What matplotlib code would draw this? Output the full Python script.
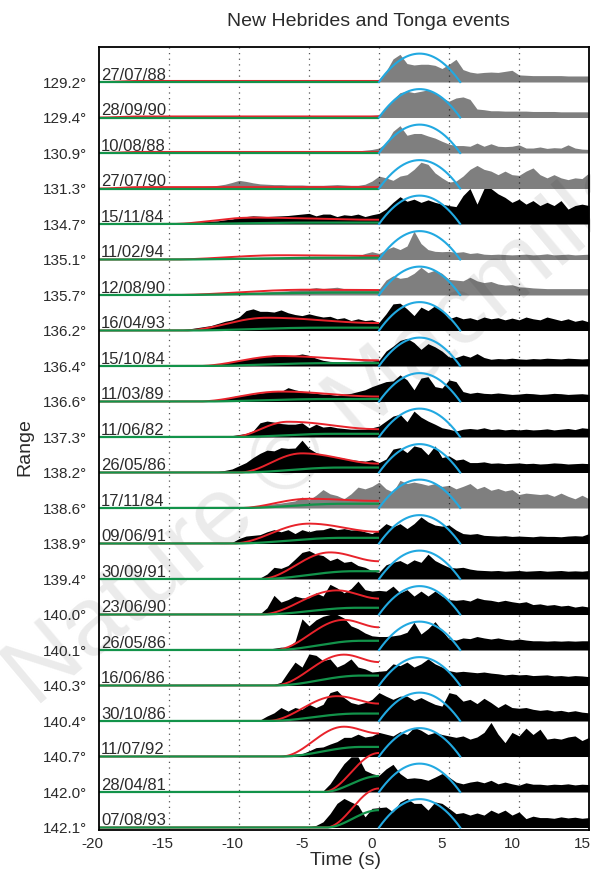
import numpy as np
import matplotlib
matplotlib.use("Agg")
import matplotlib.pyplot as plt
from matplotlib.transforms import ScaledTranslation

plt.rcParams['font.family'] = ['Liberation Sans', 'DejaVu Sans']

# ---------------------------------------------------------------- data
# event dates (top to bottom) and epicentral ranges
dates = ["27/07/88", "28/09/90", "10/08/88", "27/07/90", "15/11/84", "11/02/94",
         "12/08/90", "16/04/93", "15/10/84", "11/03/89", "11/06/82", "26/05/86",
         "17/11/84", "09/06/91", "30/09/91", "23/06/90", "26/05/86", "16/06/86",
         "30/10/86", "11/07/92", "28/04/81", "07/08/93"]
ranges = ["129.2", "129.4", "130.9", "131.3", "134.7", "135.1", "135.7", "136.2",
          "136.4", "136.6", "137.3", "138.2", "138.6", "138.9", "139.4", "140.0",
          "140.1", "140.3", "140.4", "140.7", "142.0", "142.1"]
# traces plotted in grey (True) or black (False)
grey_trace = [True, True, True, True, False, True, True, False, False, False, False,
              False, True, False, False, False, False, False, False, False, False, False]

# envelope amplitude, % of trace spacing, sampled every 0.5 s from -20 s to 15 s
env_01 = [1,1,1,1,1,1,1,1,1,1, 1,1,1,1,1,1,1,1,1,1, 1,1,1,1,1,1,1,1,1,1, 1,1,1,1,1,1,1,1,2,3,
          8,30,65,78,52,48,50,50,47,38, 50,64,35,28,25,27,28,27,30,33, 20,19,18,18,18,18,18,17,17,17,17]
env_02 = [1,1,1,1,1,1,1,1,1,1, 3,4,4,4,3,3,4,4,5,4, 4,4,3,3,4,5,5,4,4,4, 4,3,4,4,5,5,4,4,5,6,
          8,27,51,70,74,70,74,78,70,55, 46,55,58,51,24,22,19,19,18,18, 18,18,17,17,17,17,16,16,16,16,16]
env_03 = [1,1,1,1,1,1,1,1,1,1, 3,4,6,7,7,6,5,5,4,4, 3,3,3,3,3,3,4,5,5,4, 4,4,5,6,5,5,5,6,8,10,
          14,28,61,77,50,55,55,48,42,33, 25,21,21,19,28,19,26,19,18,19, 23,14,14,17,13,15,14,23,14,11,10]
env_04 = [1,1,1,1,2,2,2,2,3,3, 4,4,5,5,6,6,7,9,12,17, 23,20,16,13,12,11,11,10,10,10, 9,9,9,10,11,10,9,9,12,21,
          35,30,23,35,39,54,74,68,44,30, 18,21,35,54,65,54,49,39,49,39, 37,49,58,39,30,39,30,25,30,28,44]
env_05 = [0,0,0,0,0,0,0,0,0,0, 1,2,3,4,6,7,8,9,12,14, 19,21,23,22,21,22,23,24,26,28, 30,23,28,28,21,26,24,28,21,26,
          30,42,61,77,64,70,61,68,61,56, 52,49,80,100,56,100,100,85,75,61, 70,56,66,52,61,52,66,42,52,56,52]
env_06 = [0,0,0,0,0,0,0,0,0,0, 1,1,2,2,3,3,3,4,4,5, 5,5,5,6,6,6,6,7,7,7, 7,7,8,8,8,8,9,10,17,22,
          17,28,36,28,38,80,45,28,23,22, 23,20,22,17,19,15,14,15,14,13, 14,15,13,14,16,13,14,15,13,14,15]
env_07 = [0,0,0,0,0,0,0,0,0,0, 1,1,2,2,3,3,4,4,5,6, 7,7,8,8,9,10,11,12,14,16, 18,21,18,20,22,18,16,17,18,16,
          16,42,54,47,50,61,78,63,70,61, 44,42,40,50,40,35,38,31,28,29, 23,22,20,19,18,18,18,18,18,18,18]
env_08 = [0,0,0,0,0,0,0,0,0,0, 1,2,3,5,8,11,14,20,26,30, 38,56,61,54,54,52,58,50,45,42, 47,42,38,40,33,36,28,33,28,30,
          23,47,75,77,61,42,66,56,70,56, 33,40,33,36,30,38,33,36,30,35, 30,38,33,30,38,33,28,33,26,30,24]
env_09 = [0,0,0,0,0,0,0,0,0,0, 0,0,0,0,1,2,3,5,9,12, 16,19,22,25,28,31,28,28,30,34, 30,22,16,13,12,12,13,13,14,14,
          16,42,56,72,78,66,47,63,54,42, 25,24,31,25,35,24,19,21,20,22, 20,19,21,20,22,21,20,22,21,20,21]
env_10 = [0,0,0,0,0,0,0,0,0,0, 0,0,0,0,1,2,3,6,9,13, 17,19,21,24,26,30,28,39,33,29, 25,23,21,20,17,21,23,28,33,42,
          49,56,58,75,61,33,66,70,42,38, 61,56,28,23,26,23,22,24,22,20, 21,23,22,20,21,23,22,20,21,22,20]
env_11 = [0,0,0,0,0,0,0,0,0,0, 0,0,0,0,1,1,2,2,3,4, 7,10,17,40,45,42,38,36,36,40, 26,36,28,30,26,24,22,22,22,26,
          31,45,59,64,43,73,56,45,36,26, 22,17,22,24,22,26,21,23,20,22, 20,22,20,21,23,20,22,24,21,26,24]
env_12 = [0,0,0,0,0,0,0,0,0,0, 0,0,0,0,0,1,2,3,6,10, 19,28,42,54,63,61,70,68,69,91, 68,56,50,47,44,40,36,34,32,36,
          28,38,66,70,56,75,70,50,75,42, 47,35,38,28,28,30,26,27,25,26, 27,25,26,24,25,27,26,24,25,26,25]
env_13 = [0,0,0,0,0,0,0,0,0,0, 0,0,0,0,0,0,0,0,0,1, 1,3,5,7,10,12,14,17,20,31, 23,36,52,40,35,26,40,59,54,61,
          73,54,45,78,69,73,69,64,69,61, 64,54,61,69,54,61,50,55,48,52, 38,42,40,38,40,33,42,33,26,36,26]
env_14 = [0,0,0,0,0,0,0,0,0,0, 0,0,0,0,0,0,0,0,0,3, 14,21,23,25,33,39,33,39,28,39, 33,38,39,45,39,42,38,39,33,28,
          39,56,47,56,42,56,75,61,52,49, 52,38,28,26,28,23,22,21,22,20, 21,20,19,21,20,20,19,21,22,21,28]
env_15 = [0,0,0,0,0,0,0,0,0,0, 0,0,0,0,0,0,0,0,0,0, 0,1,2,3,14,33,30,38,56,75, 80,70,66,52,59,47,50,38,33,23,
          19,40,47,52,42,54,47,70,52,42, 33,31,33,28,25,24,23,24,22,23, 24,22,23,24,22,23,24,22,23,22,24]
env_16 = [0,0,0,0,0,0,0,0,0,0, 0,0,0,0,0,0,0,0,0,0, 0,0,0,2,19,54,35,42,52,47, 47,61,52,85,75,61,73,94,70,66,
          68,66,80,61,70,52,66,52,66,52, 42,40,42,38,47,42,40,36,40,36, 33,36,28,30,26,28,24,26,21,24,21]
env_17 = [0,0,0,0,0,0,0,0,0,0, 0,0,0,0,0,0,0,0,0,0, 0,0,0,0,2,5,8,8,24,88, 68,85,95,100,100,90,68,60,48,40,
          38,38,40,43,50,78,45,60,80,55, 31,28,34,32,38,34,31,34,30,28, 31,28,26,26,25,26,25,26,25,26,26]
env_18 = [0,0,0,0,0,0,0,0,0,0, 0,0,0,0,0,0,0,0,0,0, 0,0,0,0,1,3,9,38,66,52, 89,85,70,75,52,61,75,52,47,38,
          40,42,61,56,66,52,61,75,61,52, 42,38,40,38,36,38,35,33,30,32, 30,31,28,29,30,27,28,26,28,27,25]
env_19 = [0,0,0,0,0,0,0,0,0,0, 0,0,0,0,0,0,0,0,0,0, 0,0,1,3,14,23,38,28,38,33, 47,38,47,80,86,66,52,47,52,61,
          80,70,61,70,70,58,66,56,47,42, 80,75,56,61,49,64,52,38,49,38, 36,38,33,30,32,28,30,26,29,25,23]
env_20 = [0,0,0,0,0,0,0,0,0,0, 0,0,0,0,0,0,0,0,0,0, 0,0,0,0,1,2,3,5,7,8, 16,25,27,35,42,54,54,63,55,58,
          68,63,58,70,62,82,74,62,68,62, 58,54,58,49,55,68,96,63,39,68, 58,80,62,77,49,52,49,55,58,45,54]
env_21 = [0,0,0,0,0,0,0,0,0,0, 0,0,0,0,0,0,0,0,0,0, 0,0,0,0,0,0,0,0,0,0, 0,1,3,23,52,80,99,99,61,52,
          47,65,78,52,38,40,38,33,42,52, 42,28,23,28,31,26,33,23,28,23, 19,26,22,22,20,22,21,23,20,22,21]
env_22 = [0,0,0,0,0,0,0,0,0,0, 0,0,0,0,0,0,0,0,0,0, 0,0,0,0,0,0,0,0,0,0, 2,6,16,39,68,82,72,63,30,54,
          56,58,44,72,82,68,68,49,72,68, 54,39,42,35,41,35,49,40,49,35, 44,25,32,28,28,26,30,27,29,26,28]

envelopes = [env_01, env_02, env_03, env_04, env_05, env_06, env_07, env_08, env_09, env_10, env_11,
             env_12, env_13, env_14, env_15, env_16, env_17, env_18, env_19, env_20, env_21, env_22]

# precursor model: onset (s), time of red maximum (s), red maximum and value at 0 s,
# final level of the green curve (all levels in % of trace spacing)
onset      = [-20, -20, -20, -20, -15, -15, -15, -14, -13, -13, -10.5, -10, -10, -10.5,
              -8.5, -8.5, -7.5, -7.5, -8, -7, -4, -3.8]
red_tpeak  = [-17, -17, -17, -17, -9, -7, -5, -8, -7, -7, -6.5, -5.5, -5, -5,
              -3.5, -3, -2.5, -2.5, -3, -2.5, 0, 0]
red_peak   = [3, 3, 3, 4, 18, 12, 15, 36, 28, 28, 43, 54, 26, 56, 75, 68, 85, 87, 70, 84, 110, 110]
red_end    = [3, 3, 3, 4, 12, 10, 14, 21, 16, 14, 22, 25, 20, 33, 50, 45, 64, 66, 49, 65, 110, 110]
green_top  = [0, 0, 0, 0, 4, 5, 7, 8, 8, 7, 9, 14, 12, 16, 22, 19, 26, 28, 21, 27, 45, 49]

# main-shock pulse (blue arc): start, end (s) and height (% of spacing)
pulse_start, pulse_end, pulse_height = 0.0, 5.8, 80

x_ticks = [-20, -15, -10, -5, 0, 5, 10, 15]
x_labels = ["-20", "-15", "-10", "-5", "0", "5", "10", "15"]

# ---------------------------------------------------------------- figure
RED, GREEN, BLUE = "#e8232b", "#12934a", "#22a9e1"
TXT = "#2b2b2b"

time = np.linspace(-20, 15, 71)
for env in envelopes:
    assert len(env) == len(time)

fig = plt.figure(figsize=(5.91, 8.72), dpi=100)
fig.patch.set_facecolor("white")

fig.text(35 / 591, 1 - 708 / 872, "Nature © Macmillan", rotation=40,
         rotation_mode="anchor", ha="left", va="baseline", fontsize=70,
         color="#ebebeb", zorder=-5)

ax = fig.add_axes([99 / 591, 42 / 872, 490 / 591, 783 / 872])
ax.patch.set_visible(False)
n = len(dates)
ax.set_xlim(-20, 15)
ax.set_ylim(-(n - 1) - 0.07, 0.986)

for xv in x_ticks[1:-1]:
    ax.axvline(xv, color="#555555", lw=0.9, ls=(0, (1, 3.5)), zorder=1)

tt = np.linspace(-20, 0, 801)
ta = np.linspace(pulse_start, pulse_end, 200)
for i in range(n):
    base = -i
    amp = np.minimum(np.asarray(envelopes[i], float) / 100.0, 1.0)
    if grey_trace[i]:
        ax.fill_between(time, base, base + amp, color="black", alpha=0.5, lw=0, zorder=2)
    else:
        ax.fill_between(time, base, base + amp, color="black", lw=0, zorder=2)

    t0, tp = onset[i], red_tpeak[i]
    hp, he, hg = red_peak[i] / 100, red_end[i] / 100, green_top[i] / 100
    red = np.zeros_like(tt)
    rise = (tt >= t0) & (tt <= tp)
    red[rise] = hp * (1 - np.cos(np.pi * (tt[rise] - t0) / (tp - t0))) / 2
    if tp < 0:
        fall = tt > tp
        red[fall] = he + (hp - he) * (1 + np.cos(np.pi * (tt[fall] - tp) / (0 - tp))) / 2
    tg = tp / 2
    green = np.zeros_like(tt)
    gr = (tt >= t0) & (tt <= tg)
    if tg > t0:
        green[gr] = hg * (1 - np.cos(np.pi * (tt[gr] - t0) / (tg - t0))) / 2
    green[tt > tg] = hg
    ax.plot(tt, base + red, color=RED, lw=1.4, zorder=3, solid_capstyle="butt")
    ax.plot(tt, base + green, color=GREEN, lw=1.6, zorder=3.1, solid_capstyle="butt")

    mid = (pulse_start + pulse_end) / 2
    half = (pulse_end - pulse_start) / 2
    arc = pulse_height / 100 * (1 - ((ta - mid) / half) ** 2)
    ax.plot(ta, base + arc, color=BLUE, lw=1.5, zorder=4)

    ax.text(-19.85, base + 0.06, dates[i], fontsize=12, color=TXT,
            ha="left", va="baseline", zorder=5)

ax.set_yticks([-i for i in range(n)])
ax.set_yticklabels([r + "°" for r in ranges], fontsize=11, color=TXT)
ax.tick_params(axis="y", length=0, pad=9)
ax.set_xticks(x_ticks)
ax.set_xticklabels(x_labels, fontsize=11, color=TXT)
ax.tick_params(axis="x", length=0, pad=5)
shift = ScaledTranslation(-7 / 100, 0, fig.dpi_scale_trans)
for lab in ax.get_xticklabels():
    lab.set_transform(lab.get_transform() + shift)

for sp in ax.spines.values():
    sp.set_linewidth(1.3)
    sp.set_color("black")
    sp.set_zorder(6)

fig.text(368 / 591, 1 - 22 / 872, "New Hebrides and Tonga events", fontsize=14,
         color=TXT, ha="center", va="center")
fig.text(345 / 591, 1 - 860 / 872, "Time (s)", fontsize=14, color=TXT,
         ha="center", va="center")
fig.text(25 / 591, 1 - 447 / 872, "Range", fontsize=14, color=TXT, rotation=90,
         ha="center", va="center")

fig.savefig("out.png", dpi=100)
